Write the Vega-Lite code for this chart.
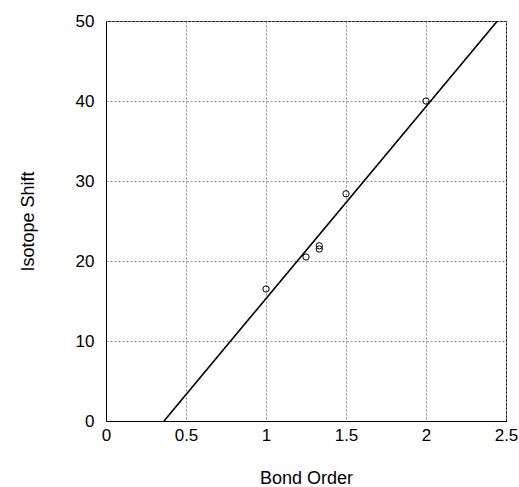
{
  "$schema": "https://vega.github.io/schema/vega-lite/v6.json",
  "width": 400,
  "height": 400,
  "autosize": {"type": "none"},
  "padding": {"left": 106, "top": 21, "right": 13, "bottom": 66},
  "background": "white",
  "config": {
    "view": {"stroke": "black", "strokeWidth": 1},
    "font": "Liberation Sans",
    "axis": {
      "labelFont": "Liberation Sans",
      "titleFont": "Liberation Sans",
      "labelFontSize": 17,
      "titleFontSize": 18,
      "titleFontWeight": "normal",
      "labelColor": "black",
      "titleColor": "black",
      "domainColor": "black",
      "domainWidth": 1,
      "ticks": false,
      "tickSize": 0,
      "gridColor": "#888888",
      "gridDash": [2, 2],
      "gridWidth": 1,
      "gridOpacity": 1
    }
  },
  "datasets": {
    "points": [
      {"bond_order": 1.0, "shift": 16.5},
      {"bond_order": 1.25, "shift": 20.5},
      {"bond_order": 1.333, "shift": 21.5},
      {"bond_order": 1.333, "shift": 21.9},
      {"bond_order": 1.5, "shift": 28.4},
      {"bond_order": 2.0, "shift": 40.0}
    ],
    "fit": [
      {"bond_order": 0.3625, "shift": 0},
      {"bond_order": 2.446, "shift": 50}
    ]
  },
  "layer": [
    {
      "data": {"name": "fit"},
      "mark": {"type": "line", "color": "black", "strokeWidth": 1.6, "clip": true},
      "encoding": {
        "x": {
          "field": "bond_order",
          "type": "quantitative",
          "scale": {"domain": [0, 2.5], "nice": false},
          "axis": {
            "title": "Bond Order",
            "values": [0, 0.5, 1, 1.5, 2, 2.5],
            "format": "~g",
            "labelPadding": 6,
            "labelFlush": false,
            "titleX": 200,
            "titleY": 62,
            "titleBaseline": "alphabetic"
          }
        },
        "y": {
          "field": "shift",
          "type": "quantitative",
          "scale": {"domain": [0, 50], "nice": false},
          "axis": {
            "title": "Isotope Shift",
            "values": [0, 10, 20, 30, 40, 50],
            "format": "~g",
            "labelPadding": 12,
            "labelFlush": false,
            "titleX": -78,
            "titleY": 200,
            "titleAngle": -90,
            "titleAlign": "center",
            "titleBaseline": "middle"
          }
        }
      }
    },
    {
      "data": {"name": "points"},
      "mark": {"type": "point", "shape": "circle", "filled": false, "color": "black", "strokeWidth": 1, "size": 40, "opacity": 1},
      "encoding": {
        "x": {"field": "bond_order", "type": "quantitative"},
        "y": {"field": "shift", "type": "quantitative"}
      }
    }
  ]
}
